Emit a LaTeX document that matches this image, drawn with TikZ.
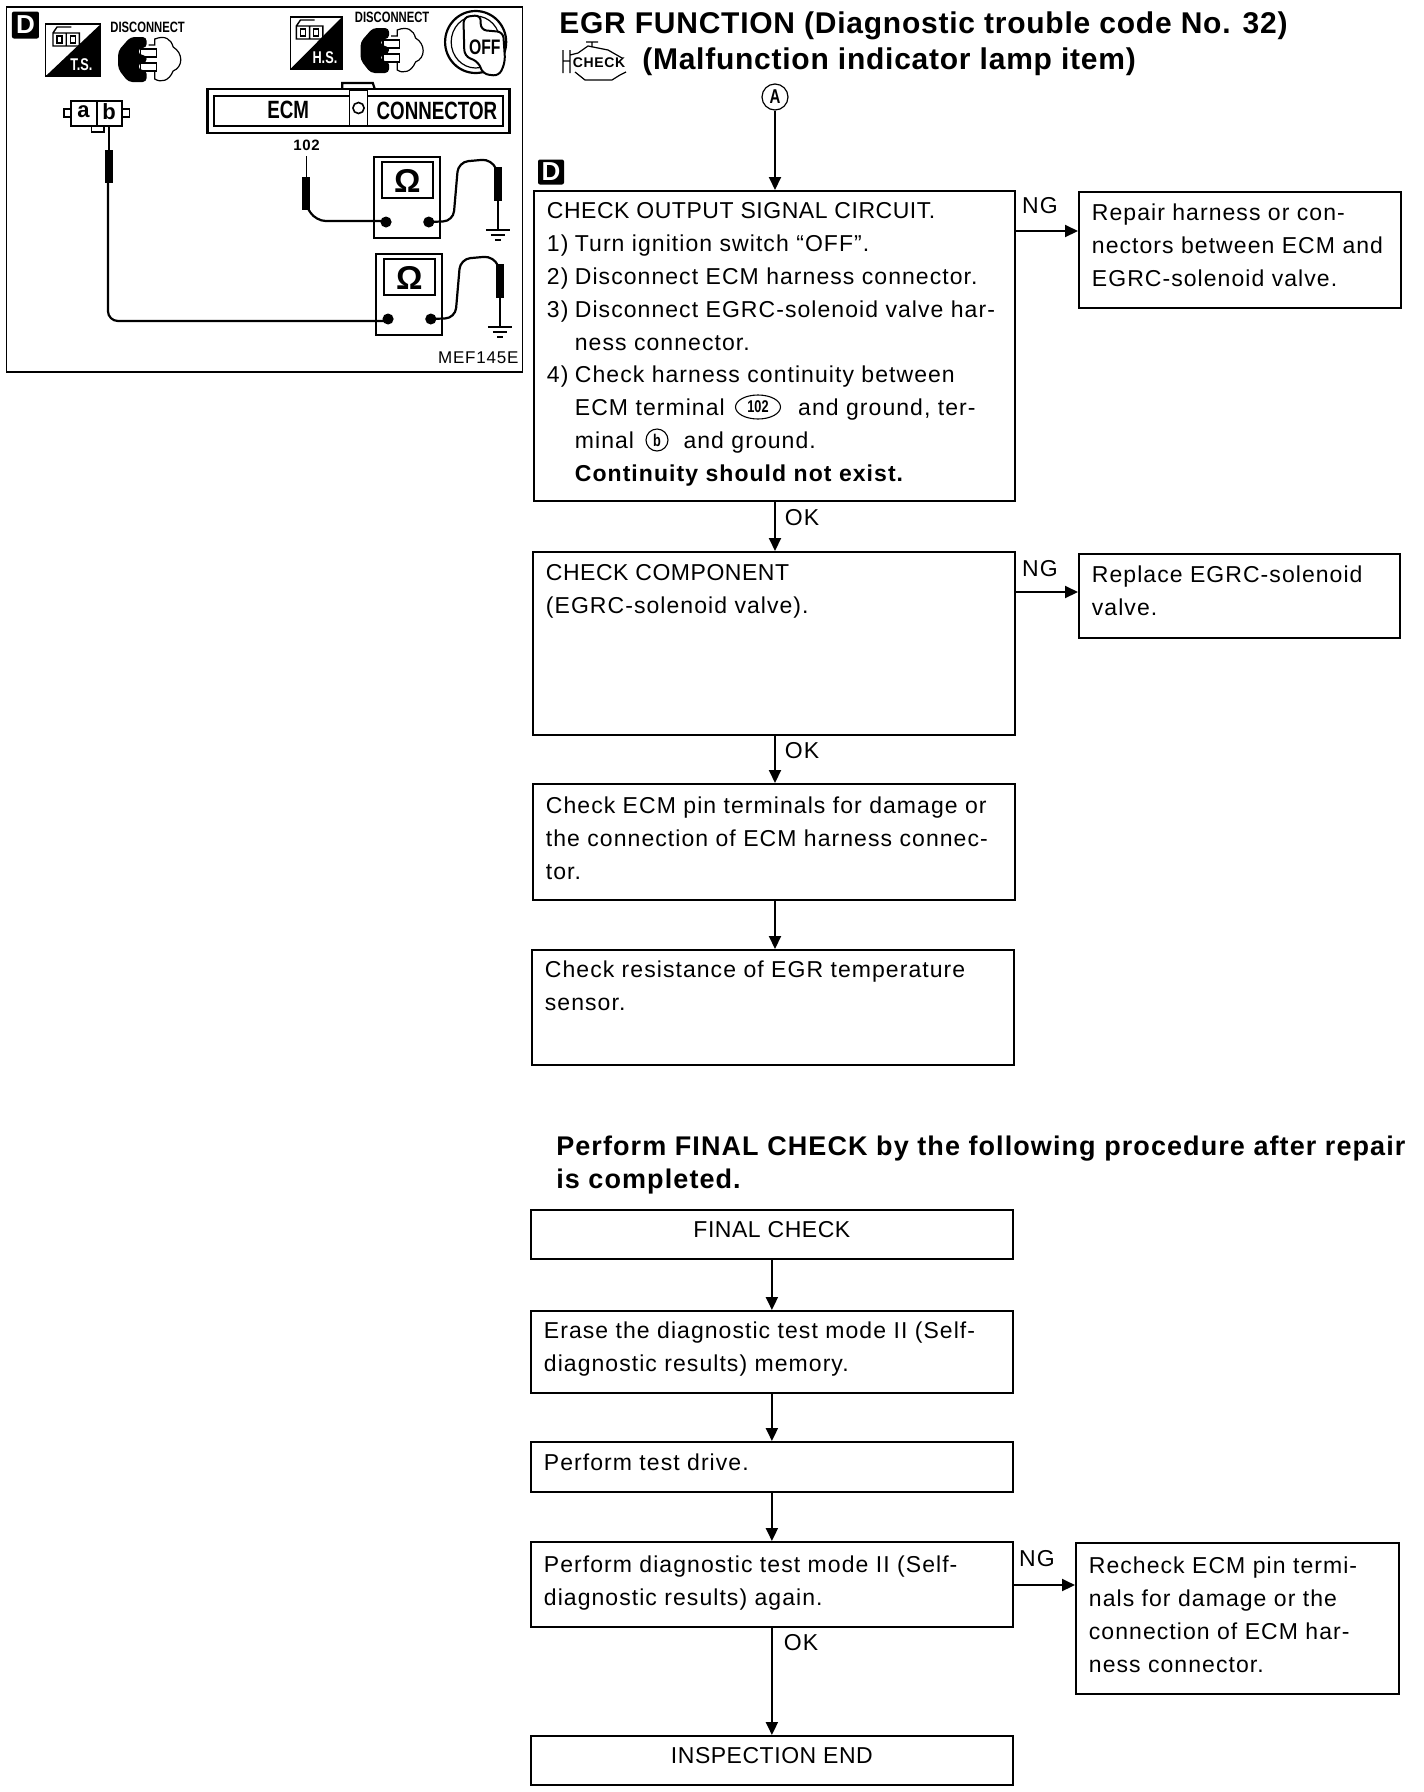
\documentclass[tikz,border=0pt]{standalone}
\usepackage{fontspec}
\setmainfont[LetterSpace=4.6]{Liberation Sans}
\newfontfamily\narrowfont[FakeStretch=0.75]{Liberation Sans}
\usetikzlibrary{arrows.meta, positioning, calc, shapes.geometric}
\newcommand{\boxbody}[4][28]{\parbox[c][#3pt][t]{#2pt}{\setlength{\baselineskip}{32.8pt}\setlength{\parindent}{0pt}\setlength{\lineskiplimit}{-30pt}\raggedright\leftskip=13pt\rule{0pt}{#1pt}\ignorespaces #4}}
\newcommand{\hang}{\hspace*{28pt}}
\newcommand{\capsfit}[1]{{\addfontfeature{LetterSpace=2.3}#1}}
\tikzset{
  every picture/.style={x=1pt, y=-1pt, line width=2pt},
  every node/.append style={font=\fontsize{23}{33}\selectfont},
  stepbox/.style={draw=black, fill=white, inner sep=0pt, anchor=north west, line width=1.8pt},
  arrow/.style={-{Triangle[length=13pt, width=12pt]}, draw=black, line width=2pt},
  title/.style={font=\fontsize{30}{36}\selectfont\bfseries\addfontfeature{LetterSpace=2.5}, anchor=base west},
  heading/.style={font=\fontsize{27}{33}\selectfont\bfseries\addfontfeature{LetterSpace=4}, anchor=base west},
  flag/.style={anchor=center},
  badge/.style={fill=black, text=white, rounded corners=2pt, inner sep=0pt, minimum width=27pt, minimum height=27pt, font=\fontsize{26}{26}\selectfont\bfseries},
  tinytext/.style={font=\narrowfont\fontsize{15}{15}\selectfont\bfseries, inner sep=0pt},
  panelname/.style={font=\narrowfont\fontsize{25}{25}\selectfont\bfseries, inner sep=0pt},
  wire/.style={line width=2.2pt, rounded corners=10pt},
  handle/.style={fill=black},
  termmark/.style={draw, ellipse, inner sep=0pt, line width=1.1pt, font=\narrowfont\fontsize{17}{17}\selectfont\bfseries},
}
\begin{document}
\begin{tikzpicture}
  \useasboundingbox (0,0) rectangle (1424,1792);
  % left panel
  \begin{scope}[xscale=1.0185]
  \draw[line width=1.2pt] (6,7) rectangle (513,372);
  \node[badge] (panelbadge) at (25,25) {D};
  % test conditions
  \draw[fill=white, line width=1.2pt] (45,24) rectangle (99,76);
  \fill (99,24) -- (99,76) -- (45,76) -- cycle;
  \draw[fill=white, line width=1.2pt] (285,17) rectangle (336,69);
  \fill (336,17) -- (336,69) -- (285,69) -- cycle;
  \foreach \ix/\iy in {52/33, 291/26} {
    \draw[line width=1.4pt] (\ix,\iy) rectangle ++(26,13) (\ix+13,\iy) -- ++(0,13) (\ix,\iy) -- ++(4,-6) -- ++(14,0);
    \draw[line width=1.4pt] (\ix+4,\iy+3) rectangle ++(5,7) (\ix+17,\iy+3) rectangle ++(5,7);
  }
  \node[text=white, font=\narrowfont\fontsize{17}{17}\selectfont\bfseries, inner sep=0pt] (tsmark) at (80,65) {T.S.};
  \node[text=white, font=\narrowfont\fontsize{17}{17}\selectfont\bfseries, inner sep=0pt] (hsmark) at (319,58) {H.S.};
  \node[tinytext] (discts) at (145,27) {DISCONNECT};
  \node[tinytext] (dischs) at (385,17) {DISCONNECT};
  % plugs
  \foreach \px/\py in {116/37, 354/28} {
    \begin{scope}[shift={(\px,\py)}]
      \draw[fill=white, line width=1.2pt] (30,8) -- (36,8) -- (36,2) .. controls (46,-2) and (52,2) .. (54,10) .. controls (64,16) and (64,30) .. (54,34) .. controls (50,44) and (42,46) .. (36,42) -- (36,32) -- (30,32);
      \draw[fill=white, line width=1.2pt] (22,12) rectangle (38,20) (22,26) rectangle (38,34);
      \fill[rounded corners=4pt] (12,0) -- (28,0) -- (28,11) -- (20,11) -- (20,18) -- (28,18) -- (28,26) -- (20,26) -- (20,33) -- (28,33) -- (28,45) -- (10,45) -- (0,32) -- (0,14) -- cycle;
    \end{scope}
  }
  % ignition key
  \draw[line width=2.2pt] (467,42) ellipse (30 and 31);
  \draw[line width=1.2pt] (467,42) ellipse (24 and 26);
  \draw[fill=white, line width=2pt, rounded corners=6pt] (455,17) -- (472,15) -- (472,30) -- (494,32) -- (496,62) -- (490,76) -- (474,74) -- (470,62) -- (456,56) -- cycle;
  \node[font=\narrowfont\fontsize{21}{21}\selectfont\bfseries, inner sep=0pt] (keyoff) at (476,47) {OFF};
  % ECM connector
  \draw[line width=2.2pt] (336,89) -- (336,83) -- (366,83) -- (368,89);
  \draw[line width=2.6pt] (204,89) rectangle (500,133);
  \draw[line width=1.6pt] (210,96) rectangle (494,126);
  \draw[fill=white, line width=1.6pt] (343,90) rectangle (361,126);
  \draw[line width=1.6pt] (352,108) circle (5.5);
  \node[panelname] (ecmname) at (283,110) {ECM};
  \node[panelname] (connname) at (429,111) {CONNECTOR};
  \node[font=\fontsize{15}{15}\selectfont\bfseries, inner sep=0pt] (pin102) at (301,145) {102};
  % sensor connector
  \draw[line width=1.6pt] (70,101) rectangle (120,126) (95,101) -- (95,126);
  \draw[line width=1.6pt] (70,109) -- (63,109) -- (63,117) -- (70,117) (120,109) -- (127,109) -- (127,117) -- (120,117);
  \draw[line width=1.4pt] (90,126) -- (90,132) -- (102,132) -- (102,126);
  \node[font=\fontsize{22}{22}\selectfont\bfseries, inner sep=0pt] (pina) at (82,112) {a};
  \node[font=\fontsize{22}{22}\selectfont\bfseries, inner sep=0pt] (pinb) at (107,112) {b};
  % meters
  \foreach \mx/\my/\mn in {367/157/one, 369/254/two} {
    \begin{scope}[shift={(\mx,\my)}]
      \draw[fill=white, line width=1.5pt] (0,0) rectangle (65,81);
      \draw[line width=1.5pt] (8,5) rectangle (58,41);
      \node[font=\fontsize{33}{33}\selectfont\bfseries, inner sep=0pt] (ohm\mn) at (33,24) {\symbol{"03A9}};
      \fill (12,65) circle (5.5) (54,65) circle (5.5);
      \draw[wire] (54,65) -- (78,64) -- (83,5) -- (116,2) -- (120,12);
      \fill[handle] (118,10) rectangle (126,44);
      \draw[line width=2pt] (122,44) -- (122,73);
      \draw[line width=1.5pt] (110,73) -- (134,73) (115,78) -- (129,78) (119,83) -- (125,83);
    \end{scope}
  }
  \draw[wire] (379,221) -- (310,221) -- (302,208);
  \fill[handle] (297,177) rectangle (304,210);
  \draw[line width=1.5pt] (301,177) -- (301,156);
  \draw[wire] (381,321) -- (106,321) -- (106,183);
  \fill[handle] (103,150) rectangle (111,183);
  \draw[line width=2pt] (107,150) -- (107,126);
  \node[font=\fontsize{17}{17}\selectfont, inner sep=0pt, anchor=east] (figno) at (510,358) {MEF145E};
  \end{scope}
  % titles
  \node[title] (titleone) at (555,33) {EGR FUNCTION (Diagnostic trouble code No. 32)};
  \node[title] (titletwo) at (638,69) {(Malfunction indicator lamp item)};
  % check engine lamp
  \draw[line width=1.2pt] (563,50) -- (563,73) (570,50) -- (570,73) (563,61) -- (570,61) (570,55) -- (578,53) -- (588,46) -- (608,50) -- (622,58);
  \draw[line width=1.2pt] (586,42) -- (598,42) (592,42) -- (592,47) (575,72) -- (585,80) -- (612,80) -- (620,75) -- (626,72);
  \node[font=\fontsize{14}{14}\selectfont\bfseries, fill=white, inner sep=0pt] (lamp) at (599,63) {CHECK};
  \node[draw, circle, inner sep=0pt, minimum size=26pt, line width=1.2pt, font=\narrowfont\fontsize{20}{20}\selectfont\bfseries] (start) at (775,97) {A};
  \node[badge, minimum width=26pt, minimum height=25pt] (flowbadge) at (551,172) {D};
  % first flow
  \node[stepbox] (output) at (533,190) {\boxbody{481}{310}{\capsfit{CHECK OUTPUT SIGNAL CIRCUIT.}\\
    \makebox[28pt][l]{1)}Turn ignition switch ``OFF''.\\
    \makebox[28pt][l]{2)}Disconnect ECM harness connector.\\
    \makebox[28pt][l]{3)}Disconnect EGRC-solenoid valve har-\\
    \hang ness connector.\\
    \makebox[28pt][l]{4)}Check harness continuity between\\
    \hang ECM terminal \hspace{66pt}and ground, ter-\\
    \hang minal \hspace{42pt}and ground.\\
    \hang\textbf{Continuity should not exist.}}};
  \node[stepbox] (repair) at (1078,191) {\boxbody[29]{322}{116}{Repair harness or con-\\nectors between ECM and\\EGRC-solenoid valve.}};
  \node[stepbox] (component) at (532,551) {\boxbody[29]{482}{183}{\capsfit{CHECK COMPONENT}\\(EGRC-solenoid valve).}};
  \node[stepbox] (replace) at (1078,553) {\boxbody[29]{321}{84}{Replace EGRC-solenoid\\valve.}};
  \node[stepbox] (pins) at (532,783) {\boxbody[30]{482}{116}{Check ECM pin terminals for damage or\\the connection of ECM harness connec-\\tor.}};
  \node[stepbox] (sensor) at (531,949) {\boxbody{482}{115}{Check resistance of EGR temperature\\sensor.}};
  \node[termmark, minimum width=45pt, minimum height=24pt] (mark102) at (758,407) {102};
  \node[termmark, circle, minimum size=22pt] (markb) at (657,440) {b};
  \draw[arrow] (start) -- (start |- output.north);
  \draw[arrow] (start |- output.south) -- (start |- component.north);
  \draw[arrow] (start |- component.south) -- (start |- pins.north);
  \draw[arrow] (start |- pins.south) -- (start |- sensor.north);
  \coordinate (ngoutput) at ([yshift=-41]output.north east);
  \coordinate (ngcomponent) at ([yshift=-41]component.north east);
  \draw[arrow] (ngoutput) -- (ngoutput -| repair.west);
  \draw[arrow] (ngcomponent) -- (ngcomponent -| replace.west);
  \node[flag] (ngone) at (1040,206) {NG};
  \node[flag] (ngtwo) at (1040,569) {NG};
  \node[flag] (okone) at (802,518) {OK};
  \node[flag] (oktwo) at (802,751) {OK};
  % final check
  \node[heading] (headone) at (552,1155) {Perform FINAL CHECK by the following procedure after repair};
  \node[heading] (headtwo) at (552,1188) {is completed.};
  \node[stepbox] (final) at (530,1209) {\boxbody{482}{49}{\centering\capsfit{FINAL CHECK}}};
  \node[stepbox] (erase) at (530,1310) {\boxbody{482}{82}{Erase the diagnostic test mode II (Self-\\diagnostic results) memory.}};
  \node[stepbox] (drive) at (530,1441) {\boxbody[29]{482}{50}{Perform test drive.}};
  \node[stepbox] (mode) at (530,1541) {\boxbody[31]{482}{85}{Perform diagnostic test mode II (Self-\\diagnostic results) again.}};
  \node[stepbox] (recheck) at (1075,1542) {\boxbody[31]{323}{151}{Recheck ECM pin termi-\\nals for damage or the\\connection of ECM har-\\ness connector.}};
  \node[stepbox] (end) at (530,1735) {\boxbody{482}{49}{\centering\capsfit{INSPECTION END}}};
  \draw[arrow] (final.south) -- (erase.north);
  \draw[arrow] (erase.south) -- (drive.north);
  \draw[arrow] (drive.south) -- (mode.north);
  \draw[arrow] (mode.south) -- (end.north);
  \coordinate (ngmode) at ([yshift=-44]mode.north east);
  \draw[arrow] (ngmode) -- (ngmode -| recheck.west);
  \node[flag] (ngthree) at (1037,1559) {NG};
  \node[flag] (okthree) at (801,1643) {OK};
\end{tikzpicture}
\end{document}
